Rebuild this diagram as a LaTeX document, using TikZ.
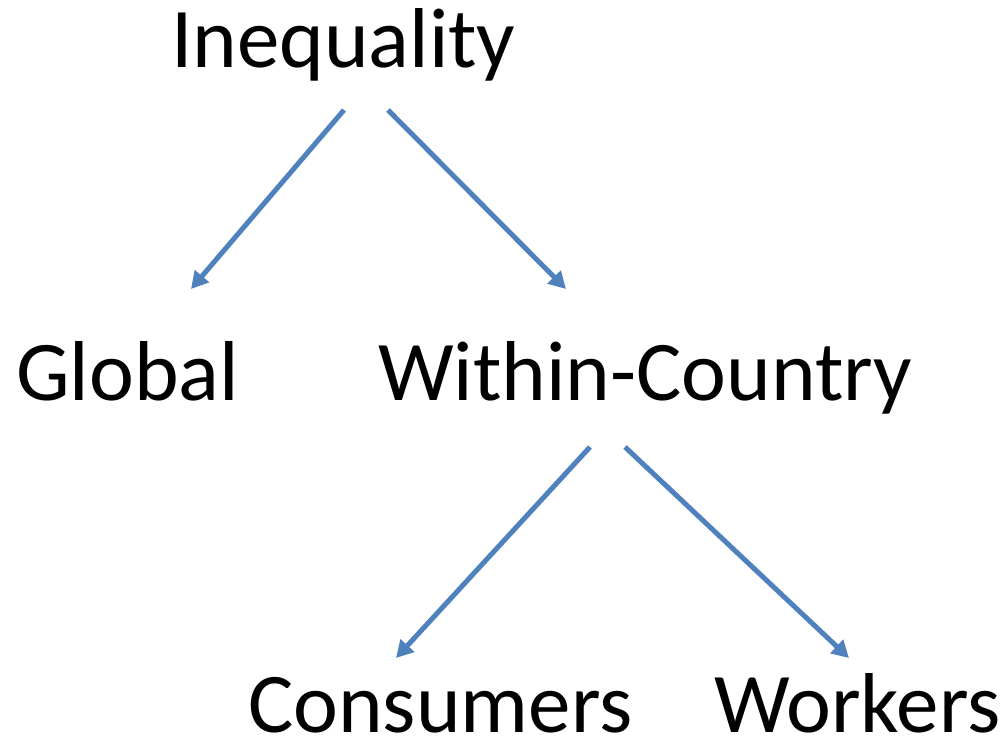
\documentclass[tikz,border=0pt]{standalone}
\usepackage{fontspec}
\setmainfont{Carlito}
\usetikzlibrary{arrows.meta}
\definecolor{arrblue}{HTML}{4F81BD}
\tikzset{
  lbl/.style={anchor=base west, inner sep=0pt, font=\fontsize{85}{100}\selectfont},
  arr/.style={draw=arrblue, line width=5pt, -{Triangle[length=17pt,width=18pt]}}
}
\begin{document}
\begin{tikzpicture}[x=1pt,y=-1pt]
\useasboundingbox (0,0) rectangle (1003,744);
\node[lbl] (ineq) at (171,67) {Inequality};
\node[lbl] (glob) at (16,400) {Global};
\node[lbl] (within) at (378,400) {Within-Country};
\node[lbl] (cons) at (248,732) {Consumers};
\node[lbl] (work) at (714,732) {Workers};
\coordinate (a1s) at (344,110);
\coordinate (a1e) at (191,289);
\coordinate (a2s) at (388,110);
\coordinate (a2e) at (566,289);
\coordinate (a3s) at (590,447);
\coordinate (a3e) at (396,658);
\coordinate (a4s) at (625,447);
\coordinate (a4e) at (849,658);
\draw[arr] (a1s) -- (a1e);
\draw[arr] (a2s) -- (a2e);
\draw[arr] (a3s) -- (a3e);
\draw[arr] (a4s) -- (a4e);
\end{tikzpicture}
\end{document}
